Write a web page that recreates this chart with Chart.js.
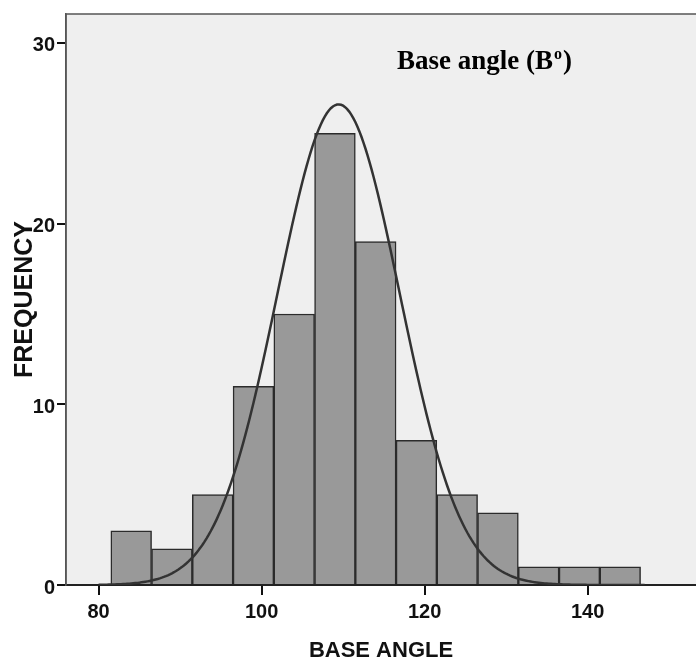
<!DOCTYPE html>
<html>
<head>
<meta charset="utf-8">
<script src="https://cdn.jsdelivr.net/npm/chart.js@4"></script>
<style>
  html, body { margin: 0; padding: 0; background: #ffffff; }
  #wrap { width: 696px; height: 662px; }
</style>
</head>
<body>
<div id="wrap"><canvas id="hist" width="696" height="662"></canvas></div>
<script>
// histogram bins (centres, width 5) and counts
const binCenters = [84, 89, 94, 99, 104, 109, 114, 119, 124, 129, 134, 139, 144];
const counts = [3, 2, 5, 11, 15, 25, 19, 8, 5, 4, 1, 1, 1];
const binWidth = 5;

// normal curve overlay
const curveMean = 109.45;
const curveSd = 7.5;
const curveFrom = 80;
const curveTo = 147;

const xTicks = [80, 100, 120, 140];
const yTicks = [0, 10, 20, 30];

const sans = "'Liberation Sans', Arial, sans-serif";

// build the normal curve scaled to the histogram's total area
function normalCurve() {
  const n = counts.reduce((a, b) => a + b, 0);
  const pts = [];
  for (let x = curveFrom; x <= curveTo + 1e-9; x += 0.25) {
    const z = (x - curveMean) / curveSd;
    const y = n * binWidth / (curveSd * Math.sqrt(2 * Math.PI)) * Math.exp(-0.5 * z * z);
    pts.push({ x: x, y: y });
  }
  return pts;
}

// grey plot background and frame
const plotFrame = {
  id: 'plotFrame',
  beforeDraw(chart) {
    const { ctx, chartArea: a } = chart;
    ctx.save();
    ctx.fillStyle = '#efefef';
    ctx.fillRect(a.left, a.top, a.right - a.left, a.bottom - a.top);
    ctx.restore();
  },
  afterDraw(chart) {
    const { ctx, chartArea: a } = chart;
    ctx.save();
    ctx.strokeStyle = '#555555';
    ctx.lineWidth = 1.5;
    ctx.beginPath();
    ctx.moveTo(a.left, a.bottom);
    ctx.lineTo(a.left, a.top);
    ctx.lineTo(a.right, a.top);
    ctx.stroke();

    // in-plot label "Base angle (B°)" with superscript o
    ctx.fillStyle = '#000000';
    ctx.textBaseline = 'alphabetic';
    ctx.textAlign = 'left';
    const x0 = 397, y0 = 69;
    ctx.font = "bold 27px 'Liberation Serif', 'Times New Roman', serif";
    const main = 'Base angle (B';
    ctx.fillText(main, x0, y0);
    let x = x0 + ctx.measureText(main).width + 1;
    ctx.font = "bold 16px 'Liberation Serif', 'Times New Roman', serif";
    ctx.fillText('o', x, y0 - 10);
    x += ctx.measureText('o').width + 1;
    ctx.font = "bold 27px 'Liberation Serif', 'Times New Roman', serif";
    ctx.fillText(')', x, y0);
    ctx.restore();
  }
};

const ctx = document.getElementById('hist').getContext('2d');

new Chart(ctx, {
  type: 'bar',
  data: {
    datasets: [{
      type: 'line',
      label: 'Normal',
      data: normalCurve(),
      borderColor: '#333333',
      borderWidth: 2.5,
      pointRadius: 0,
      fill: false,
      tension: 0,
      order: 0
    }, {
      type: 'bar',
      label: 'Frequency',
      data: binCenters.map((c, i) => ({ x: c, y: counts[i] })),
      backgroundColor: '#999999',
      borderColor: '#2b2b2b',
      borderWidth: 1.5,
      barPercentage: 1,
      categoryPercentage: 1,
      grouped: false,
      order: 1
    }]
  },
  options: {
    responsive: false,
    animation: false,
    layout: { padding: { top: 12, right: 0, left: 0, bottom: 0 } },
    plugins: {
      legend: { display: false },
      tooltip: { enabled: false }
    },
    scales: {
      x: {
        type: 'linear',
        offset: false,
        min: 76,
        max: 153.3,
        afterBuildTicks: (s) => { s.ticks = xTicks.map(v => ({ value: v })); },
        afterFit: (s) => { s.height = 77; },
        grid: { display: true, offset: false, drawOnChartArea: false, drawTicks: true, tickLength: 10, tickColor: '#111111', tickWidth: 2, color: '#111111', lineWidth: 2 },
        border: { display: true, color: '#222222', width: 2 },
        ticks: { color: '#111111', padding: 5, font: { family: sans, size: 20, weight: 'bold' } },
        title: {
          display: true,
          text: 'BASE ANGLE',
          color: '#111111',
          padding: 0,
          font: { family: sans, size: 22, weight: 'bold', lineHeight: 1 }
        }
      },
      y: {
        min: 0,
        max: 31.6,
        afterBuildTicks: (s) => { s.ticks = yTicks.map(v => ({ value: v })); },
        afterFit: (s) => { s.width = 66; },
        grid: { display: true, drawOnChartArea: false, drawTicks: true, tickLength: 9, tickColor: '#111111', tickWidth: 2, color: '#111111', lineWidth: 2 },
        border: { display: true, color: '#555555', width: 1.5 },
        ticks: { color: '#111111', padding: 2, labelOffset: 3, font: { family: sans, size: 20, weight: 'bold' } },
        title: {
          display: true,
          text: 'FREQUENCY',
          color: '#111111',
          padding: { top: 10, bottom: 0 },
          font: { family: sans, size: 25, weight: 'bold', lineHeight: 1.2 }
        }
      }
    }
  },
  plugins: [plotFrame]
});
</script>
</body>
</html>
